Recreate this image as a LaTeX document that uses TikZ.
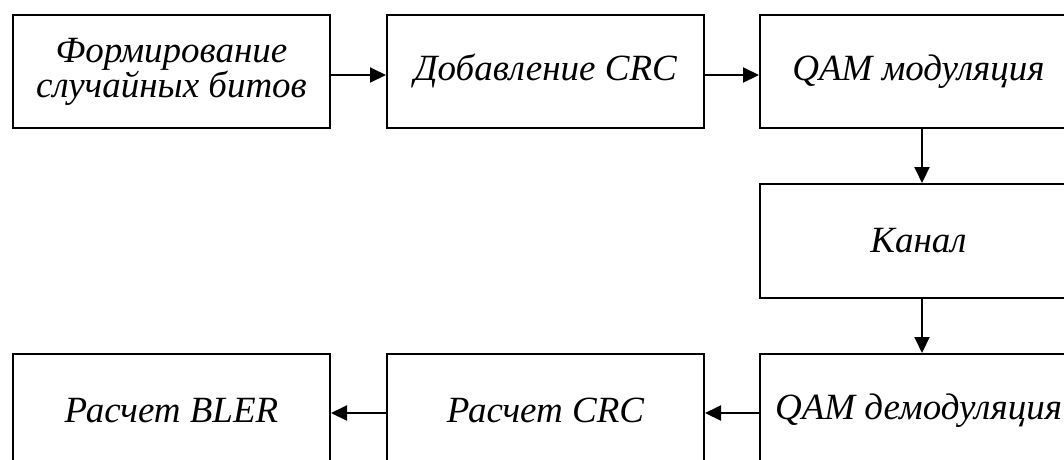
\documentclass[tikz,border=0pt]{standalone}
\usepackage{fontspec}
\setmainfont{Liberation Serif}
\usetikzlibrary{arrows.meta,calc}
\tikzset{
  blk/.style={draw, line width=2pt, anchor=north west, minimum width=317pt,
    minimum height=113pt, inner sep=0pt, align=center,
    font=\fontsize{37}{35}\selectfont\itshape},
  arr/.style={line width=2pt, -{Triangle[length=16pt,width=15pt]}}
}
\begin{document}
\begin{tikzpicture}[x=1pt,y=-1pt]
  \useasboundingbox (0,0) rectangle (1064,459);
  \clip (0,0) rectangle (1064,459);
  % upper row
  \node[blk] (gen) at (12,14) {Формирование\\случайных битов};
  \node[blk] (crc) at (386,14) {Добавление CRC};
  \node[blk] (mod) at (759,14) {QAM модуляция};
  % channel
  \node[blk, minimum height=114pt] (ch) at (759,183) {Канал};
  % lower row
  \node[blk] (dem) at (759,353) {QAM демодуляция};
  \node[blk] (chk) at (386,353) {Расчет CRC};
  \node[blk] (bler) at (12,353) {Расчет BLER};
  % connectors
  \draw[arr] ($(gen.east)+(0,3.5)$) -- ($(crc.west)+(0,3.5)$);
  \draw[arr] ($(crc.east)+(0,3.5)$) -- ($(mod.west)+(0,3.5)$);
  \draw[arr] ($(mod.south)+(3.5,0)$) -- ($(ch.north)+(3.5,0)$);
  \draw[arr] ($(ch.south)+(3.5,0)$) -- ($(dem.north)+(3.5,0)$);
  \draw[arr] ($(dem.west)+(0,2.5)$) -- ($(chk.east)+(0,2.5)$);
  \draw[arr] ($(chk.west)+(0,2.5)$) -- ($(bler.east)+(0,2.5)$);
\end{tikzpicture}
\end{document}
